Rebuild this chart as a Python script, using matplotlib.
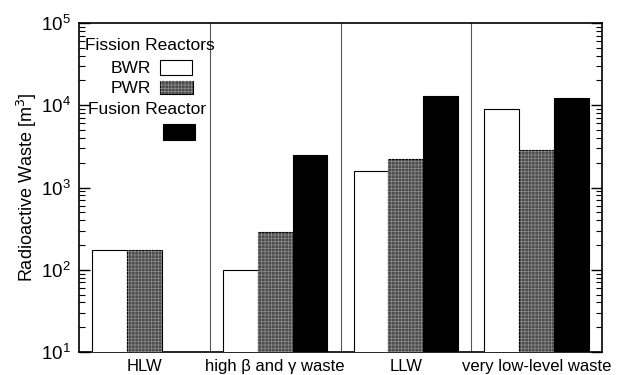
import matplotlib.pyplot as plt
from matplotlib.patches import Rectangle
import numpy as np

plt.rcParams['font.family'] = ['Liberation Sans', 'DejaVu Sans']
plt.rcParams['hatch.linewidth'] = 0.5

categories = ['HLW', 'high \u03b2 and \u03b3 waste', 'LLW', 'very low-level waste']
bwr = [175, 100, 1600, 9000]
pwr = [175, 285, 2250, 2850]
fusion = [np.nan, 2450, 13000, 12300]  # no fusion HLW bar

fig = plt.figure(figsize=(6.21, 3.75), dpi=100)
ax = fig.add_axes([79 / 621, 23 / 375, 523 / 621, 329 / 375])
ax.set_yscale('log')

x = np.arange(len(categories))
w = 0.267
pwr_color = '#4d4d4d'
has_fusion = np.isfinite(fusion)

ax.bar(x - w, bwr, w, color='white', edgecolor='black', linewidth=0.8, zorder=3)
ax.bar(x, pwr, w, color=pwr_color, edgecolor='black', linewidth=0.8, zorder=3)
ax.bar(x, pwr, w, fill=False, hatch='+++++', edgecolor='#8a8a8a', linewidth=0, zorder=4)
ax.bar(x[has_fusion] + w, np.array(fusion)[has_fusion], w, color='black',
       edgecolor='black', linewidth=0.8, zorder=3)

for d in [0.5, 1.5, 2.5]:
    ax.axvline(d, color='#555555', linewidth=0.8, zorder=1)

ax.set_ylim(10, 1e5)
ax.set_xlim(-0.5, 3.5)
ax.set_xticks(x)
ax.set_xticklabels(categories, fontsize=12)
ax.tick_params(axis='x', length=0, pad=5)
ax.tick_params(axis='y', which='both', direction='in', right=True, labelsize=13.5, pad=6)
ax.tick_params(axis='y', which='major', length=8, width=1)
ax.tick_params(axis='y', which='minor', length=4, width=0.8)
ax.set_ylabel('Radioactive Waste [m$^3$]', fontsize=13, labelpad=1)
for s in ax.spines.values():
    s.set_linewidth(1.2)

# hand-made legend in the upper left
ax.text(0.0115, 0.933, 'Fission Reactors', transform=ax.transAxes, fontsize=12.5, va='center', ha='left')
ax.text(0.1377, 0.863, 'BWR', transform=ax.transAxes, fontsize=12.5, va='center', ha='right')
ax.text(0.1377, 0.802, 'PWR', transform=ax.transAxes, fontsize=12.5, va='center', ha='right')
ax.text(0.0172, 0.7356, 'Fusion Reactor', transform=ax.transAxes, fontsize=12.5, va='center', ha='left')
ax.add_patch(Rectangle((0.1549, 0.842), 0.0612, 0.0456, transform=ax.transAxes,
                       facecolor='white', edgecolor='black', linewidth=0.8, zorder=5))
ax.add_patch(Rectangle((0.1549, 0.784), 0.063, 0.0395, transform=ax.transAxes,
                       facecolor=pwr_color, edgecolor='black', linewidth=0.8, zorder=5))
ax.add_patch(Rectangle((0.1549, 0.784), 0.063, 0.0395, transform=ax.transAxes,
                       fill=False, hatch='+++++', edgecolor='#8a8a8a', linewidth=0, zorder=6))
ax.add_patch(Rectangle((0.1606, 0.644), 0.0612, 0.0486, transform=ax.transAxes,
                       facecolor='black', edgecolor='black', linewidth=0.8, zorder=5))

fig.savefig('out.png', dpi=100)
